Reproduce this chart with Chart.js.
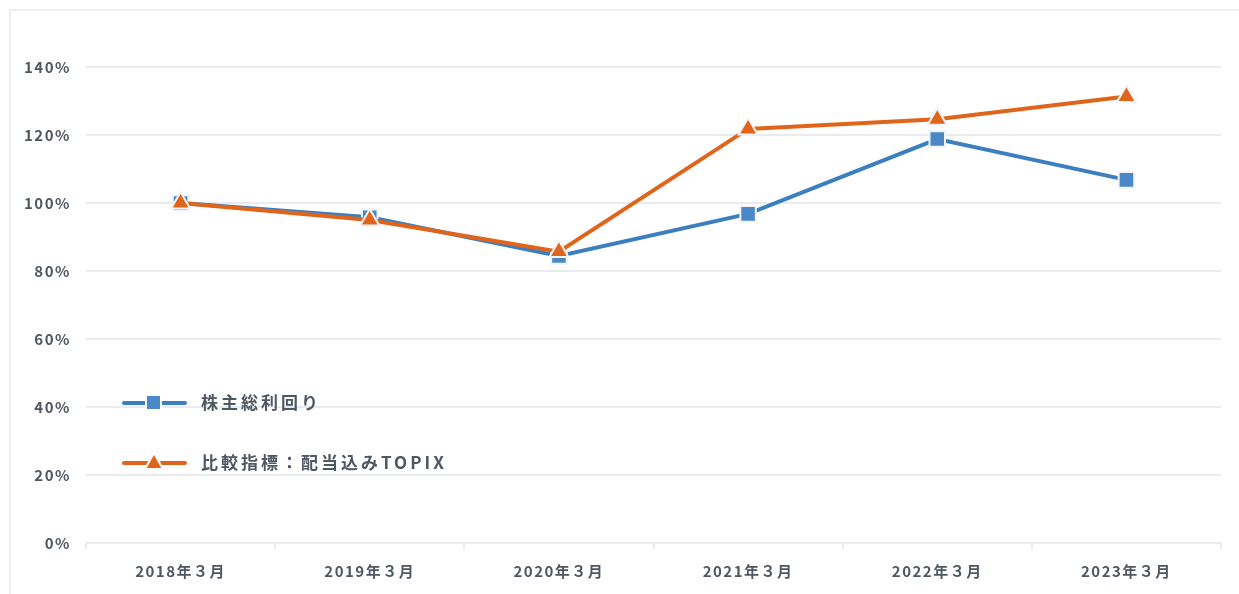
<!DOCTYPE html>
<html>
<head>
<meta charset="utf-8">
<script src="https://cdn.jsdelivr.net/npm/chart.js@4/dist/chart.umd.min.js"></script>
<style>
  html, body { margin: 0; padding: 0; background: #fff; }
  #wrap { position: relative; width: 1239px; height: 594px; overflow: hidden; }
  #frame { position: absolute; left: 9px; top: 9px; right: -10px; bottom: -10px;
           border-left: 2px solid #eceff3; border-top: 2px solid #eceff3; }
  #chart { position: absolute; left: 0; top: 0; }
</style>
</head>
<body>
<div id="wrap">
  <div id="frame"></div>
  <canvas id="chart" width="1239" height="594"></canvas>
</div>
<script>
// data
const labels    = ["2018年３月", "2019年３月", "2020年３月", "2021年３月", "2022年３月", "2023年３月"];
const tsrValues = [100, 95.8, 84.4, 96.8, 118.8, 106.8];   // 株主総利回り
const topixVals = [100, 95.0, 85.7, 121.8, 124.6, 131.3];  // 比較指標：配当込みTOPIX
const yTicks    = [0, 20, 40, 60, 80, 100, 120, 140];

const BLUE   = "#3b7fc0";
const BLUE_M = "#4a88c8";
const ORANGE = "#e0651a";
const TEXT   = "#4f5763";
const GRID   = "#e8ecf1";
const FONT   = "'Noto Sans CJK JP', 'Noto Sans', sans-serif";

// wider tracking like the original labels
const spacing = {
  id: "spacing",
  beforeDraw(chart) { chart.ctx.letterSpacing = "1.5px"; }
};

// legend drawn inside the plot area, left side
const innerLegend = {
  id: "innerLegend",
  afterDraw(chart) {
    const ctx = chart.ctx;
    const rows = [
      { ds: chart.data.datasets[0], y: 403 },
      { ds: chart.data.datasets[1], y: 463 }
    ];
    rows.forEach(r => {
      const ds = r.ds;
      ctx.save();
      ctx.strokeStyle = ds.borderColor;
      ctx.lineWidth = 4;
      ctx.lineCap = "round";
      ctx.beginPath();
      ctx.moveTo(124, r.y);
      ctx.lineTo(185, r.y);
      ctx.stroke();
      ctx.fillStyle = ds.pointBackgroundColor;
      ctx.strokeStyle = "#ffffff";
      ctx.lineWidth = 2;
      ctx.beginPath();
      if (ds.pointStyle === "rect") {
        ctx.rect(146, r.y - 8, 15, 15);
      } else {
        ctx.moveTo(154, r.y - 10);
        ctx.lineTo(163, r.y + 6);
        ctx.lineTo(145, r.y + 6);
        ctx.closePath();
      }
      ctx.fill();
      ctx.stroke();
      ctx.fillStyle = TEXT;
      ctx.font = "bold 17px " + FONT;
      ctx.letterSpacing = "3px";
      ctx.textBaseline = "middle";
      ctx.textAlign = "left";
      ctx.fillText(ds.label, 201, r.y);
      ctx.restore();
    });
  }
};

new Chart(document.getElementById("chart").getContext("2d"), {
  type: "line",
  data: {
    labels: labels,
    datasets: [
      {
        label: "株主総利回り",
        data: tsrValues,
        borderColor: BLUE,
        borderWidth: 4,
        pointStyle: "rect",
        pointRadius: 11,
        pointBackgroundColor: BLUE_M,
        pointBorderColor: "#f2f4f7",
        pointBorderWidth: 2,
        tension: 0,
        order: 2
      },
      {
        label: "比較指標：配当込みTOPIX",
        data: topixVals,
        borderColor: ORANGE,
        borderWidth: 4,
        pointStyle: "triangle",
        pointRadius: 11,
        pointBackgroundColor: ORANGE,
        pointBorderColor: "#f2f4f7",
        pointBorderWidth: 2,
        tension: 0,
        order: 1
      }
    ]
  },
  options: {
    responsive: false,
    animation: false,
    layout: { padding: { top: 33, right: 18, bottom: 0, left: 0 } },
    plugins: {
      legend: { display: false },
      tooltip: { enabled: false }
    },
    scales: {
      x: {
        offset: true,
        grid: {
          offset: true,
          drawOnChartArea: false,
          drawTicks: true,
          tickLength: 6,
          color: GRID,
          lineWidth: 2
        },
        border: { display: true, color: GRID, width: 2 },
        ticks: {
          color: TEXT,
          padding: 13,
          font: { family: FONT, size: 15, weight: "bold" }
        },
        afterFit(scale) { scale.height = 51; }
      },
      y: {
        min: 0,
        max: 150,
        grid: { color: GRID, lineWidth: 2, drawTicks: false },
        border: { display: false },
        afterBuildTicks(scale) {
          scale.ticks = yTicks.map(v => ({ value: v }));
        },
        ticks: {
          color: TEXT,
          padding: 15,
          font: { family: FONT, size: 15, weight: "bold" },
          callback: v => v + "%"
        },
        afterFit(scale) { scale.width = 86; }
      }
    }
  },
  plugins: [spacing, innerLegend]
});
</script>
</body>
</html>
